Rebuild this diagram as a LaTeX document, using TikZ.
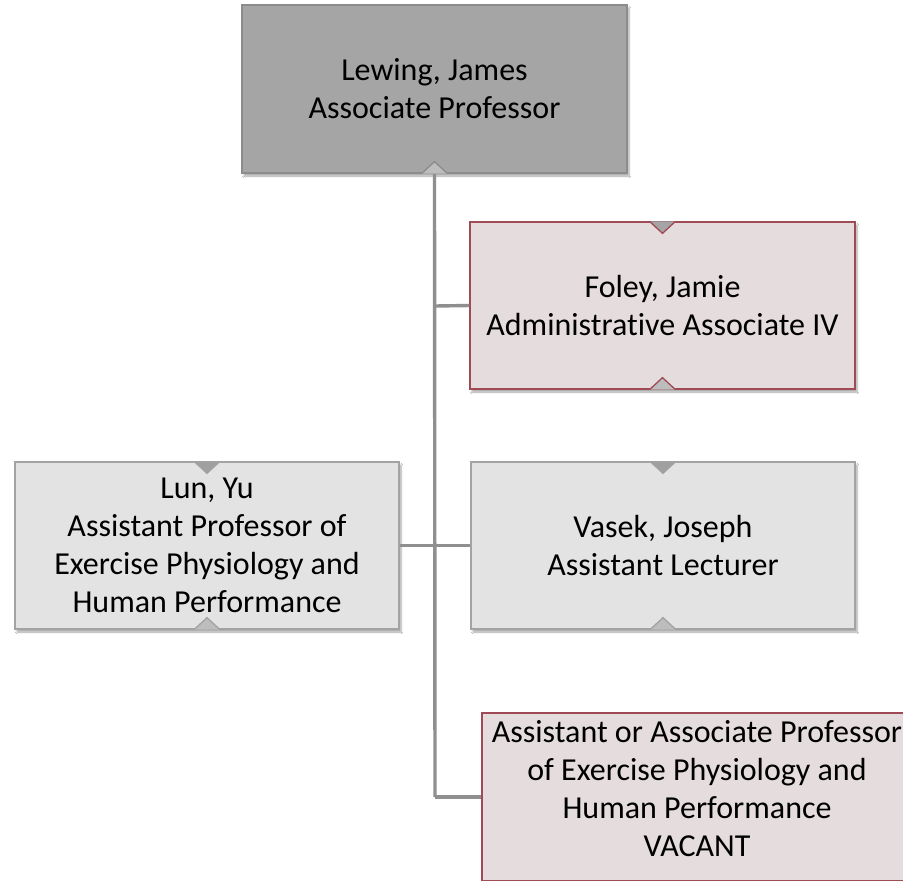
\documentclass[tikz,border=0pt]{standalone}
\usepackage{fontspec}
\setmainfont{Carlito}[Ligatures={NoCommon}]
\usetikzlibrary{shadows.blur}
\definecolor{linegray}{HTML}{8F8F8F}
\definecolor{topfill}{HTML}{A5A5A5}
\definecolor{topborder}{HTML}{8C8C8C}
\definecolor{rosefill}{HTML}{E5DDDD}
\definecolor{roseborder}{HTML}{A04A55}
\definecolor{lightfill}{HTML}{E3E3E3}
\definecolor{lightborder}{HTML}{A3A3A3}
\definecolor{notchdark}{HTML}{A0A0A0}
\definecolor{notchlight}{HTML}{BDBDBD}
\tikzset{
  box/.style={rectangle, inner sep=0pt, line width=1.3pt, align=center,
    font=\fontsize{32}{38}\selectfont,
    blur shadow={shadow xshift=2pt, shadow yshift=-3pt, shadow blur steps=6, shadow opacity=35}},
  topbox/.style={box, fill=topfill, draw=topborder},
  rosebox/.style={box, fill=rosefill, draw=roseborder},
  greybox/.style={box, fill=lightfill, draw=lightborder},
  conn/.style={draw=linegray, line width=3.4pt},
  txt/.style={align=center, inner sep=0pt, font=\fontsize{32}{38}\selectfont}
}
\begin{document}
\begin{tikzpicture}[x=1pt,y=-1pt]
\useasboundingbox (0,0) rectangle (903,881);
\clip (0,0) rectangle (903,881);
\fill[white] (0,0) rectangle (903,881);

% junction coordinates
\coordinate (jf) at (435,306);
\coordinate (jl) at (435,546);
\coordinate (jv) at (435,797);

% boxes
\node[topbox, minimum width=385pt, minimum height=168pt] (lew) at (434.5,89) {Lewing, James\\Associate Professor};
\node[rosebox, minimum width=385pt, minimum height=167pt] (fol) at (662.5,305.5) {Foley, Jamie\\Administrative Associate IV};
\node[greybox, minimum width=384pt, minimum height=167pt] (lun) at (207,545.5) {Lun, Yu\\Assistant Professor of\\Exercise Physiology and\\Human Performance};
\node[greybox, minimum width=384pt, minimum height=167pt] (vas) at (663,545.5) {Vasek, Joseph\\Assistant Lecturer};
\node[rosebox, minimum width=430pt, minimum height=168pt] (vac) at (697,797) {};
\node[txt] (vact) at (697,789) {Assistant or Associate Professor\\of Exercise Physiology and\\Human Performance\\VACANT};

% connectors
\draw[conn] (lew.south) -- (jv);
\draw[conn] (jf) -- (fol.west);
\draw[conn] (lun.east) -- (vas.west);
\draw[conn] (jv) -- (vac.west);

% notches
\filldraw[fill=notchlight, draw=topborder, line width=1.3pt] (lew.south) ++(-13,0) -- ++(13,-12) -- ++(13,12);
\filldraw[fill=topfill, draw=roseborder, line width=1.3pt] (fol.north) ++(-13,0) -- ++(13,12) -- ++(13,-12);
\filldraw[fill=notchlight, draw=roseborder, line width=1.3pt] (fol.south) ++(-13,0) -- ++(13,-12) -- ++(13,12);
\filldraw[fill=notchdark, draw=lightborder, line width=1.3pt] (lun.north) ++(-13,0) -- ++(13,12) -- ++(13,-12);
\filldraw[fill=notchlight, draw=lightborder, line width=1.3pt] (lun.south) ++(-13,0) -- ++(13,-12) -- ++(13,12);
\filldraw[fill=notchdark, draw=lightborder, line width=1.3pt] (vas.north) ++(-13,0) -- ++(13,12) -- ++(13,-12);
\filldraw[fill=notchlight, draw=lightborder, line width=1.3pt] (vas.south) ++(-13,0) -- ++(13,-12) -- ++(13,12);
\end{tikzpicture}
\end{document}
